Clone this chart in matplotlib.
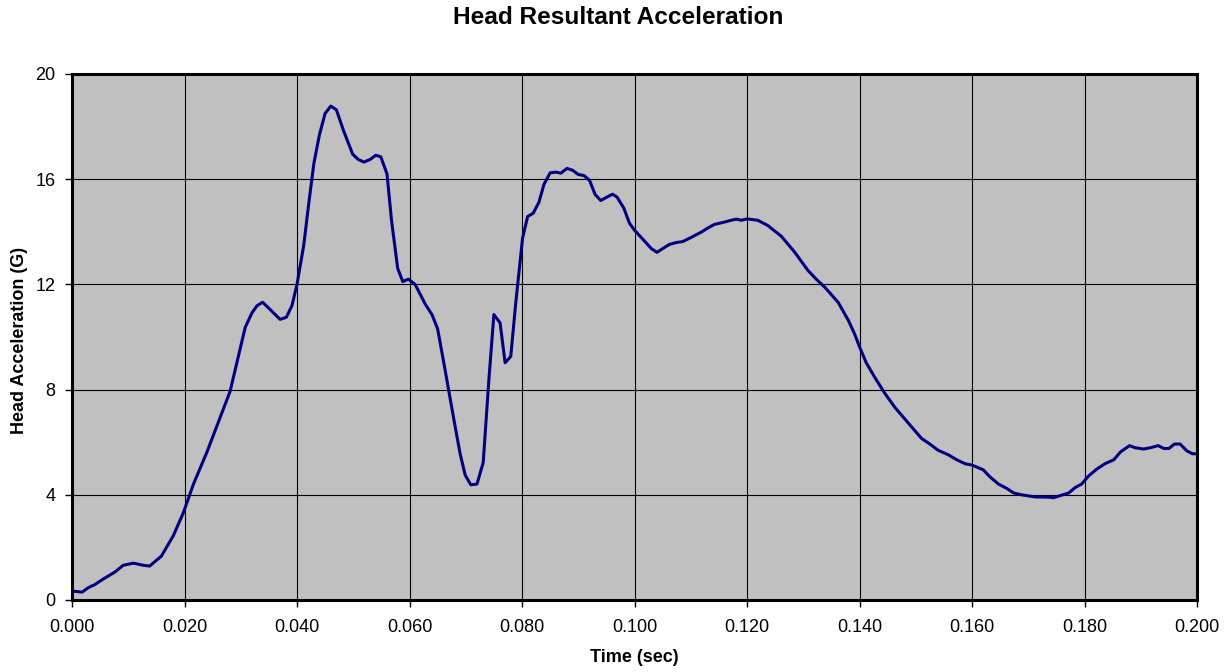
import matplotlib
matplotlib.use("Agg")
import matplotlib.pyplot as plt
import numpy as np

plt.rcParams['font.family'] = ['Liberation Sans', 'DejaVu Sans']

title = "Head Resultant Acceleration"
x_label = "Time (sec)"
y_label = "Head Acceleration (G)"

time_ms = [0.0, 1.8, 2.9, 4.0, 5.5, 7.6, 9.1, 10.9, 12.7, 13.8, 15.9, 18.0, 19.8, 21.6,
           24.0, 25.7, 26.9, 28.1, 29.3, 30.8, 32.0, 32.9, 33.9, 35.2, 37.0, 38.1, 39.1,
           40.0, 41.2, 42.1, 43.0, 44.0, 45.0, 46.0, 47.0, 48.3, 49.9, 50.9, 51.9, 53.0,
           54.0, 54.9, 56.0, 56.8, 57.9, 58.8, 59.8, 61.0, 62.8, 64.0, 65.0, 66.1, 67.0,
           67.9, 69.0, 69.9, 70.9, 72.0, 73.1, 74.1, 75.0, 76.1, 77.0, 78.0, 78.9, 80.1,
           81.0, 82.0, 83.0, 83.9, 85.0, 86.0, 86.9, 88.0, 89.0, 90.0, 91.0, 92.0, 93.0,
           94.0, 95.1, 96.1, 96.9, 98.1, 99.1, 100.0, 101.3, 103.0, 104.0, 105.0, 106.2,
           107.4, 108.6, 110.1, 111.9, 113.0, 114.2, 116.0, 117.2, 118.1, 119.0, 120.0,
           121.9, 123.7, 126.1, 128.5, 130.8, 132.3, 133.8, 136.2, 138.0, 139.1, 140.0,
           141.2, 142.7, 144.5, 146.3, 148.6, 151.0, 152.5, 154.0, 155.8, 157.3, 158.8,
           160.0, 162.0, 163.2, 164.7, 166.2, 167.4, 168.8, 171.2, 173.6, 174.5, 175.7,
           177.2, 178.3, 179.5, 180.7, 182.2, 183.7, 185.2, 186.4, 188.0, 189.0, 190.5,
           191.7, 193.1, 194.1, 195.0, 196.0, 197.0, 198.2, 199.2, 200.0]

accel_g = [0.34, 0.30, 0.47, 0.58, 0.79, 1.06, 1.32, 1.40, 1.32, 1.29, 1.67, 2.44, 3.32, 4.41,
           5.63, 6.58, 7.25, 7.93, 9.02, 10.37, 10.92, 11.19, 11.32, 11.05, 10.67, 10.75, 11.19,
           12.0, 13.49, 15.1, 16.6, 17.7, 18.5, 18.78, 18.64, 17.83, 16.95, 16.75, 16.65, 16.75,
           16.91, 16.85, 16.2, 14.44, 12.61, 12.11, 12.20, 12.0, 11.25, 10.85, 10.31, 9.02, 7.93,
           6.85, 5.56, 4.75, 4.38, 4.41, 5.22, 8.34, 10.85, 10.54, 9.02, 9.26, 11.32, 13.76,
           14.58, 14.71, 15.12, 15.8, 16.24, 16.27, 16.23, 16.41, 16.34, 16.18, 16.14, 15.96, 15.42,
           15.19, 15.32, 15.43, 15.32, 14.9, 14.33, 14.06, 13.76, 13.36, 13.22, 13.36, 13.52,
           13.59, 13.63, 13.79, 13.99, 14.14, 14.28, 14.37, 14.44, 14.48, 14.44, 14.49,
           14.44, 14.24, 13.83, 13.22, 12.54, 12.2, 11.9, 11.32, 10.64, 10.13, 9.63,
           9.02, 8.47, 7.86, 7.32, 6.75, 6.15, 5.93, 5.69, 5.52, 5.33, 5.18,
           5.13, 4.95, 4.68, 4.41, 4.24, 4.07, 4.0, 3.92, 3.91, 3.89, 3.97,
           4.07, 4.27, 4.41, 4.71, 4.98, 5.19, 5.33, 5.63, 5.87, 5.79, 5.74,
           5.79, 5.87, 5.76, 5.76, 5.93, 5.93, 5.67, 5.56, 5.56]

x_ticks = [0.000, 0.020, 0.040, 0.060, 0.080, 0.100, 0.120, 0.140, 0.160, 0.180, 0.200]
y_ticks = [0, 4, 8, 12, 16, 20]

t_sec = np.array(time_ms) / 1000.0

fig = plt.figure(figsize=(12.31, 6.72), dpi=100)
ax = fig.add_axes([72 / 1231, 1 - 600 / 672, 1125 / 1231, 526 / 672])
ax.set_facecolor('#C0C0C0')

ax.plot(t_sec, accel_g, color='#000080', lw=2.2, zorder=3, solid_joinstyle='round')

ax.set_xlim(0, 0.2)
ax.set_ylim(0, 20)
ax.set_xticks(x_ticks)
ax.set_xticklabels([f"{v:.3f}" for v in x_ticks])
ax.set_yticks(y_ticks)
ax.set_yticklabels([str(v) for v in y_ticks])
ax.grid(True, color='black', lw=0.8, zorder=1)
ax.set_axisbelow(True)

for s in ax.spines.values():
    s.set_linewidth(2.2)
    s.set_color('black')
    s.set_zorder(4)

ax.tick_params(axis='both', direction='out', length=5, width=1, color='black',
               labelsize=13)
ax.tick_params(axis='x', pad=9)
ax.tick_params(axis='y', pad=7)

fig.text(634.5 / 1231, 1 - 657 / 672, x_label, ha='center', va='center', fontsize=13, fontweight='bold')
fig.text(20 / 1231, 1 - 340 / 672, y_label, ha='center', va='center', rotation=90,
         fontsize=13, fontweight='bold')
fig.text(618 / 1231, 1 - 17 / 672, title, ha='center', va='center', fontsize=17.6, fontweight='bold')

fig.savefig('out.png', dpi=100, facecolor='white')
